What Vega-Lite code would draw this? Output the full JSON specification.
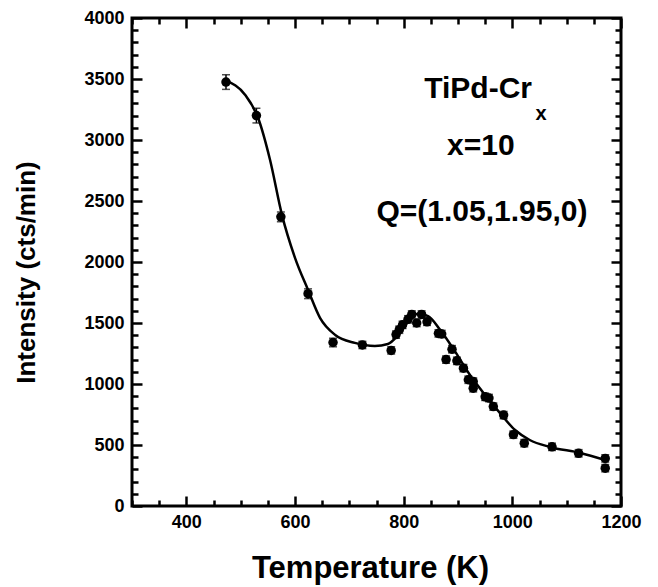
{
  "$schema": "https://vega.github.io/schema/vega-lite/v6.json",
  "width": 489,
  "height": 488,
  "autosize": "none",
  "padding": {"left": 132, "top": 18, "right": 37, "bottom": 81},
  "background": "white",
  "config": {
    "view": {"stroke": "black", "strokeWidth": 3},
    "font": "Liberation Sans",
    "axis": {
      "domain": false, "grid": false, "tickColor": "black", "tickWidth": 2.5,
      "labelFont": "Liberation Sans", "labelFontWeight": "bold", "labelFontSize": 18, "labelColor": "black",
      "titleFont": "Liberation Sans", "titleFontWeight": "bold", "titleColor": "black",
      "labelOverlap": false, "labelFlush": false
    }
  },
  "datasets": {
    "pts": [
      {"T": 473, "I": 3475, "err": 60},
      {"T": 529, "I": 3200, "err": 60},
      {"T": 574, "I": 2370, "err": 40},
      {"T": 624, "I": 1740, "err": 40},
      {"T": 670, "I": 1340, "err": 35},
      {"T": 724, "I": 1320, "err": 30},
      {"T": 777, "I": 1275, "err": 30},
      {"T": 786, "I": 1405, "err": 30},
      {"T": 792, "I": 1445, "err": 30},
      {"T": 798, "I": 1485, "err": 30},
      {"T": 808, "I": 1530, "err": 30},
      {"T": 815, "I": 1570, "err": 30},
      {"T": 824, "I": 1500, "err": 30},
      {"T": 833, "I": 1570, "err": 30},
      {"T": 843, "I": 1510, "err": 30},
      {"T": 864, "I": 1415, "err": 30},
      {"T": 870, "I": 1410, "err": 30},
      {"T": 878, "I": 1200, "err": 30},
      {"T": 889, "I": 1285, "err": 30},
      {"T": 898, "I": 1190, "err": 30},
      {"T": 910, "I": 1130, "err": 30},
      {"T": 919, "I": 1035, "err": 30},
      {"T": 928, "I": 1020, "err": 30},
      {"T": 928, "I": 965, "err": 30},
      {"T": 950, "I": 895, "err": 30},
      {"T": 957, "I": 885, "err": 30},
      {"T": 965, "I": 815, "err": 30},
      {"T": 984, "I": 745, "err": 30},
      {"T": 1002, "I": 585, "err": 30},
      {"T": 1022, "I": 515, "err": 30},
      {"T": 1073, "I": 485, "err": 30},
      {"T": 1122, "I": 432, "err": 30},
      {"T": 1171, "I": 390, "err": 30},
      {"T": 1171, "I": 310, "err": 30}
    ],
    "curve": [
      {"T": 473, "I": 3486},
      {"T": 508, "I": 3371},
      {"T": 532, "I": 3182},
      {"T": 554, "I": 2838},
      {"T": 576, "I": 2386},
      {"T": 600, "I": 2034},
      {"T": 624, "I": 1771},
      {"T": 646, "I": 1542},
      {"T": 674, "I": 1402},
      {"T": 710, "I": 1337},
      {"T": 747, "I": 1312},
      {"T": 771, "I": 1328},
      {"T": 790, "I": 1402},
      {"T": 808, "I": 1509},
      {"T": 826, "I": 1575},
      {"T": 845, "I": 1556},
      {"T": 867, "I": 1444},
      {"T": 895, "I": 1263},
      {"T": 922, "I": 1074},
      {"T": 950, "I": 910},
      {"T": 977, "I": 763},
      {"T": 1005, "I": 623},
      {"T": 1032, "I": 541},
      {"T": 1069, "I": 484},
      {"T": 1125, "I": 435},
      {"T": 1171, "I": 377}
    ],
    "labels": [
      {"label": "TiPd-Cr", "T": 937, "I": 3346},
      {"label": "x=10", "T": 942, "I": 2878},
      {"label": "Q=(1.05,1.95,0)", "T": 944, "I": 2337}
    ],
    "sub": [
      {"label": "x", "T": 1053, "I": 3165}
    ]
  },
  "resolve": {"axis": {"x": "independent", "y": "independent"}},
  "layer": [
    {
      "data": {"name": "pts"},
      "mark": {"type": "errorbar", "ticks": {"size": 8, "color": "black"}, "color": "black", "thickness": 1.5},
      "encoding": {
        "x": {"field": "T", "type": "quantitative", "scale": {"domain": [300, 1200], "nice": false, "zero": false}, "axis": null},
        "y": {"field": "I", "type": "quantitative", "scale": {"domain": [0, 4000], "nice": false}, "axis": null},
        "yError": {"field": "err"}
      }
    },
    {
      "data": {"name": "pts"},
      "mark": {"type": "circle", "size": 90, "color": "black", "opacity": 1},
      "encoding": {
        "x": {"field": "T", "type": "quantitative", "scale": {"domain": [300, 1200], "nice": false, "zero": false},
          "axis": {
            "orient": "bottom", "title": "Temperature (K)", "titleFontSize": 31, "titlePadding": 18, "titleX": 238,
            "values": [300,350,400,450,500,550,600,650,700,750,800,850,900,950,1000,1050,1100,1150,1200],
            "labelExpr": "datum.value % 200 === 0 ? format(datum.value, 'd') : ''",
            "tickSize": {"condition": {"test": "datum.value % 200 === 0", "value": -10}, "value": -6},
            "labelPadding": 17
          }},
        "y": {"field": "I", "type": "quantitative", "scale": {"domain": [0, 4000], "nice": false},
          "axis": {
            "orient": "left", "title": "Intensity (cts/min)", "titleFontSize": 26, "titlePadding": 44, "titleY": 254,
            "values": [0,100,200,300,400,500,600,700,800,900,1000,1100,1200,1300,1400,1500,1600,1700,1800,1900,2000,2100,2200,2300,2400,2500,2600,2700,2800,2900,3000,3100,3200,3300,3400,3500,3600,3700,3800,3900,4000],
            "labelExpr": "datum.value % 500 === 0 ? format(datum.value, 'd') : ''",
            "tickSize": {"condition": {"test": "datum.value % 500 === 0", "value": -10}, "value": -6},
            "labelPadding": 18
          }}
      }
    },
    {
      "data": {"name": "curve"},
      "mark": {"type": "line", "interpolate": "monotone", "color": "black", "strokeWidth": 2.5},
      "encoding": {
        "x": {"field": "T", "type": "quantitative", "scale": {"domain": [300, 1200], "nice": false, "zero": false},
          "axis": {
            "orient": "top", "title": null, "labels": false,
            "values": [300,350,400,450,500,550,600,650,700,750,800,850,900,950,1000,1050,1100,1150,1200],
            "tickSize": {"condition": {"test": "datum.value % 200 === 0", "value": -10}, "value": -6}
          }},
        "y": {"field": "I", "type": "quantitative", "scale": {"domain": [0, 4000], "nice": false},
          "axis": {
            "orient": "right", "title": null, "labels": false,
            "values": [0,100,200,300,400,500,600,700,800,900,1000,1100,1200,1300,1400,1500,1600,1700,1800,1900,2000,2100,2200,2300,2400,2500,2600,2700,2800,2900,3000,3100,3200,3300,3400,3500,3600,3700,3800,3900,4000],
            "tickSize": {"condition": {"test": "datum.value % 500 === 0", "value": -10}, "value": -6}
          }}
      }
    },
    {
      "data": {"name": "labels"},
      "mark": {"type": "text", "fontSize": 30, "fontWeight": "bold", "align": "center", "baseline": "alphabetic", "color": "black", "font": "Liberation Sans"},
      "encoding": {
        "x": {"field": "T", "type": "quantitative", "scale": {"domain": [300, 1200], "nice": false, "zero": false}, "axis": null},
        "y": {"field": "I", "type": "quantitative", "scale": {"domain": [0, 4000], "nice": false}, "axis": null},
        "text": {"field": "label"}
      }
    },
    {
      "data": {"name": "sub"},
      "mark": {"type": "text", "fontSize": 20, "fontWeight": "bold", "align": "center", "baseline": "alphabetic", "color": "black", "font": "Liberation Sans"},
      "encoding": {
        "x": {"field": "T", "type": "quantitative", "scale": {"domain": [300, 1200], "nice": false, "zero": false}, "axis": null},
        "y": {"field": "I", "type": "quantitative", "scale": {"domain": [0, 4000], "nice": false}, "axis": null},
        "text": {"field": "label"}
      }
    }
  ]
}
